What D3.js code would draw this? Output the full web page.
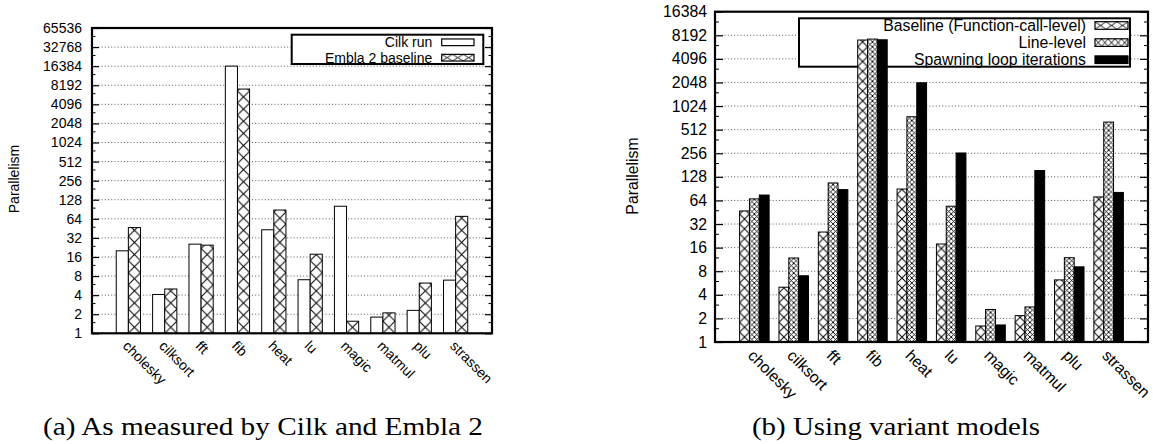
<!DOCTYPE html>
<meta charset="utf-8">
<script src="https://d3js.org/d3.v7.min.js"></script>
<style>
  body { margin: 0; background: #fff; }
  text { font-family: "Liberation Sans", Arial, Helvetica, sans-serif; fill: #000; }
  .caption { font-family: "Liberation Serif", "DejaVu Serif", serif; }
</style>
<body>
<svg id="fig" width="1153" height="444"></svg>
<script>
// benchmarks on the x axis (both panels)
var categories = ["cholesky", "cilksort", "fft", "fib", "heat", "lu", "magic", "matmul", "plu", "strassen"];

// (a) parallelism as measured by Cilk and Embla 2
var cilkRun        = [20, 4.1, 25.5, 16400, 43, 7, 101, 1.8, 2.3, 6.9];
var emblaBaseline  = [46.5, 5.0, 24.6, 7130, 88, 17.7, 1.55, 2.1, 6.2, 70];

// (b) variant models
var baselineFnCall = [47, 5.0, 25.3, 7130, 89.5, 17.8, 1.6, 2.17, 6.2, 71];
var lineLevel      = [67, 11.8, 107, 7330, 748, 54, 2.6, 2.8, 11.9, 640];
var spawnLoop      = [75, 7.0, 88, 7180, 2030, 258, 1.65, 154, 9.1, 81];

// tick labels
var ticksA = [1, 2, 4, 8, 16, 32, 64, 128, 256, 512, 1024, 2048, 4096, 8192, 16384, 32768, 65536];
var ticksB = [1, 2, 4, 8, 16, 32, 64, 128, 256, 512, 1024, 2048, 4096, 8192, 16384];

var svg = d3.select("#fig");
var defs = svg.append("defs");

function hatch(id, x0, y0, w, h, lw) {
  var p = defs.append("pattern")
    .attr("id", id)
    .attr("patternUnits", "userSpaceOnUse")
    .attr("x", x0).attr("y", y0)
    .attr("width", w).attr("height", h);
  p.append("rect").attr("width", w).attr("height", h).attr("fill", "white");
  p.append("path")
    .attr("d", "M0,0L" + w + "," + h + "M" + w + ",0L0," + h +
               "M-1,-1L1,1M" + (w - 1) + "," + (h + 1) + "L" + (w + 1) + "," + (h - 1))
    .attr("stroke", "black").attr("stroke-width", lw).attr("fill", "none");
}

// fill for a series: "white", "black", "x" (sparse crosshatch) or "xx" (dense)
function fillFor(kind, id, x0, y0, bw) {
  if (kind == "white") return "white";
  if (kind == "black") return "black";
  if (kind == "x") { hatch(id, x0, y0, bw, bw, 1); return "url(#" + id + ")"; }
  hatch(id, x0, y0, bw / 2, bw / 2, 0.9);
  return "url(#" + id + ")";
}

function panel(cfg) {
  var g = svg.append("g");
  var x = d3.scaleLinear().domain([-1, 10]).range([cfg.left, cfg.right]);
  var y = d3.scaleLog().base(2).domain([1, cfg.ticks[cfg.ticks.length - 1]]).range([cfg.bottom, cfg.top]);
  var n = cfg.series.length;
  var bwUnits = 1 / (n + 1);
  var bw = x(bwUnits) - x(0);

  // grid
  g.append("g").selectAll("line")
    .data(cfg.ticks)
    .enter().append("line")
      .attr("x1", cfg.left).attr("x2", cfg.right)
      .attr("y1", function(d) { return y(d); })
      .attr("y2", function(d) { return y(d); })
      .attr("stroke", "#444")
      .attr("stroke-width", 0.9)
      .attr("stroke-dasharray", "1,2.2");

  // legend box hides the grid, bars are drawn over it
  var lg = cfg.legend;
  g.append("rect")
    .attr("x", lg.x).attr("y", lg.y).attr("width", lg.w).attr("height", lg.h)
    .attr("fill", "white").attr("stroke", "black").attr("stroke-width", 2);

  // bars
  cfg.series.forEach(function(s, si) {
    g.append("g").selectAll("rect")
      .data(s.values)
      .enter().append("rect")
        .attr("x", function(d, i) { return x(i + (si - (n - 1) / 2) * bwUnits - bwUnits / 2); })
        .attr("y", function(d) { return y(d); })
        .attr("width", bw)
        .attr("height", function(d) { return cfg.bottom - y(d); })
        .attr("fill", function(d, i) {
          var x0 = x(i + (si - (n - 1) / 2) * bwUnits - bwUnits / 2);
          return fillFor(s.kind, cfg.id + "s" + si + "b" + i, x0, cfg.bottom, bw);
        })
        .attr("stroke", "black")
        .attr("stroke-width", 1);
  });

  // legend entries
  cfg.series.forEach(function(s, si) {
    var cy = lg.y + lg.first + si * lg.step;
    g.append("text")
      .attr("x", lg.textRight).attr("y", cy)
      .attr("dy", "0.36em")
      .attr("text-anchor", "end")
      .style("font-size", cfg.font + "px")
      .text(s.name);
    var sw = lg.sampleW, sh = lg.sampleH;
    var fill;
    if (s.kind == "white") fill = "white";
    else if (s.kind == "black") fill = "black";
    else {
      var reps = s.kind == "x" ? 3 : 5;
      hatch(cfg.id + "leg" + si, lg.sampleX, cy - sh / 2, sw / reps, sh, 0.9);
      fill = "url(#" + cfg.id + "leg" + si + ")";
    }
    g.append("rect")
      .attr("x", lg.sampleX).attr("y", cy - sh / 2)
      .attr("width", sw).attr("height", sh)
      .attr("fill", fill).attr("stroke", "black").attr("stroke-width", 1.2);
  });

  // y axis labels + inward ticks on both sides
  var minor = cfg.ticks.slice(0, -1).map(function(t) { return t * 1.5; });
  var left = g.append("g")
    .attr("transform", "translate(" + cfg.left + ",0)")
    .call(d3.axisLeft(y).tickValues(cfg.ticks).tickFormat(d3.format("d"))
      .tickSize(-cfg.tick).tickPadding(cfg.pad));
  left.select(".domain").remove();
  left.selectAll("text").style("font-size", cfg.font + "px").attr("font-family", null);
  left.selectAll("line").attr("stroke-width", 1.2);

  var leftMinor = g.append("g")
    .attr("transform", "translate(" + cfg.left + ",0)")
    .call(d3.axisLeft(y).tickValues(minor).tickFormat("").tickSize(-cfg.tick / 2));
  leftMinor.select(".domain").remove();

  var right = g.append("g")
    .attr("transform", "translate(" + cfg.right + ",0)")
    .call(d3.axisRight(y).tickValues(cfg.ticks).tickFormat("").tickSize(-cfg.tick));
  right.select(".domain").remove();
  right.selectAll("line").attr("stroke-width", 1.2);
  var rightMinor = g.append("g")
    .attr("transform", "translate(" + cfg.right + ",0)")
    .call(d3.axisRight(y).tickValues(minor).tickFormat("").tickSize(-cfg.tick / 2));
  rightMinor.select(".domain").remove();

  // frame
  g.append("rect")
    .attr("x", cfg.left).attr("y", cfg.top)
    .attr("width", cfg.right - cfg.left).attr("height", cfg.bottom - cfg.top)
    .attr("fill", "none").attr("stroke", "black").attr("stroke-width", 2.2);

  // x category labels, rotated
  g.append("g").selectAll("text")
    .data(categories)
    .enter().append("text")
      .attr("transform", function(d, i) {
        return "translate(" + (x(i) + 1) + "," + (cfg.bottom + 6) + ") rotate(45)";
      })
      .attr("dy", "0.75em")
      .style("font-size", cfg.font + "px")
      .text(function(d) { return d; });

  // y axis title
  g.append("text")
    .attr("transform", "translate(" + cfg.ylabX + "," + cfg.ylabY + ") rotate(-90)")
    .attr("text-anchor", "middle")
    .attr("dy", "0.36em")
    .style("font-size", cfg.font + "px")
    .text("Parallelism");

  // caption
  g.append("text")
    .attr("class", "caption")
    .attr("x", cfg.capX).attr("y", 435)
    .attr("textLength", cfg.capW)
    .attr("lengthAdjust", "spacingAndGlyphs")
    .style("font-size", "26px")
    .text(cfg.caption);
}

panel({
  id: "a",
  left: 92, right: 492, top: 28, bottom: 333.3,
  ticks: ticksA, font: 14, tick: 7, pad: 10,
  series: [
    { name: "Cilk run", values: cilkRun, kind: "white" },
    { name: "Embla 2 baseline", values: emblaBaseline, kind: "x" }
  ],
  legend: { x: 291.7, y: 34.7, w: 191.6, h: 29.3, first: 7.6, step: 15.4,
            textRight: 432.3, sampleX: 441.7, sampleW: 32.3, sampleH: 6.7 },
  ylabX: 14, ylabY: 179,
  caption: "(a) As measured by Cilk and Embla 2", capX: 43, capW: 440
});

panel({
  id: "b",
  left: 715, right: 1148, top: 11.7, bottom: 342,
  ticks: ticksB, font: 15.8, tick: 8, pad: 8,
  series: [
    { name: "Baseline (Function-call-level)", values: baselineFnCall, kind: "x" },
    { name: "Line-level", values: lineLevel, kind: "xx" },
    { name: "Spawning loop iterations", values: spawnLoop, kind: "black" }
  ],
  legend: { x: 799, y: 18.3, w: 331, h: 48.4, first: 7.2, step: 17.1,
            textRight: 1086, sampleX: 1095, sampleW: 33, sampleH: 7.6 },
  ylabX: 632, ylabY: 176,
  caption: "(b) Using variant models", capX: 752, capW: 288
});
</script>
</body>
